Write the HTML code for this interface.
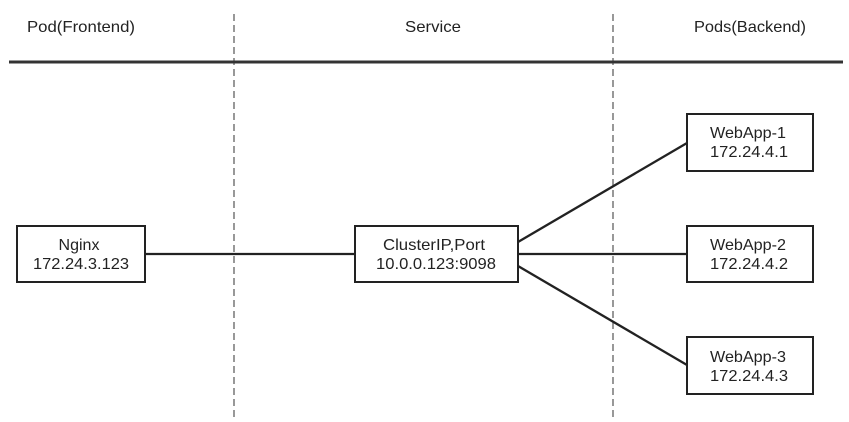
<!DOCTYPE html>
<html><head><style>
html,body{margin:0;padding:0;background:#fff;}
svg text{font-family:"Liberation Sans",Arial,sans-serif;font-size:16px;fill:#222;}
</style></head><body>
<svg width="849" height="417" viewBox="0 0 849 417" xmlns="http://www.w3.org/2000/svg">
<rect width="849" height="417" fill="#fff"/>
<text x="81" y="32" text-anchor="middle" textLength="108" lengthAdjust="spacingAndGlyphs">Pod(Frontend)</text>
<text x="433" y="32" text-anchor="middle" textLength="56" lengthAdjust="spacingAndGlyphs">Service</text>
<text x="750" y="32" text-anchor="middle" textLength="112" lengthAdjust="spacingAndGlyphs">Pods(Backend)</text>
<line x1="234" y1="14" x2="234" y2="417" stroke="#555" stroke-width="1.2" stroke-dasharray="7,4"/>
<line x1="613" y1="14" x2="613" y2="417" stroke="#555" stroke-width="1.2" stroke-dasharray="7,4"/>
<line x1="9" y1="62" x2="843" y2="62" stroke="#333" stroke-width="3"/>
<g stroke="#222" stroke-width="2.3" fill="none">
<line x1="145" y1="254" x2="355" y2="254"/>
<line x1="518" y1="254" x2="687" y2="254"/>
<line x1="518" y1="242" x2="687" y2="143"/>
<line x1="518" y1="266" x2="687" y2="365"/>
</g>
<g stroke="#222" stroke-width="2" fill="#fff">
<rect x="17" y="226" width="128" height="56"/>
<rect x="355" y="226" width="163" height="56"/>
<rect x="687" y="114" width="126" height="57"/>
<rect x="687" y="226" width="126" height="56"/>
<rect x="687" y="337" width="126" height="57"/>
</g>
<text x="79" y="250" text-anchor="middle">Nginx</text>
<text x="81" y="269" text-anchor="middle" textLength="96" lengthAdjust="spacingAndGlyphs">172.24.3.123</text>
<text x="434" y="250" text-anchor="middle" textLength="102" lengthAdjust="spacingAndGlyphs">ClusterIP,Port</text>
<text x="436" y="269" text-anchor="middle" textLength="120" lengthAdjust="spacingAndGlyphs">10.0.0.123:9098</text>
<text x="748" y="138" text-anchor="middle" textLength="76" lengthAdjust="spacingAndGlyphs">WebApp-1</text>
<text x="749" y="157" text-anchor="middle" textLength="78" lengthAdjust="spacingAndGlyphs">172.24.4.1</text>
<text x="748" y="250" text-anchor="middle" textLength="76" lengthAdjust="spacingAndGlyphs">WebApp-2</text>
<text x="749" y="269" text-anchor="middle" textLength="78" lengthAdjust="spacingAndGlyphs">172.24.4.2</text>
<text x="748" y="362" text-anchor="middle" textLength="76" lengthAdjust="spacingAndGlyphs">WebApp-3</text>
<text x="749" y="381" text-anchor="middle" textLength="78" lengthAdjust="spacingAndGlyphs">172.24.4.3</text>
</svg>
</body></html>
